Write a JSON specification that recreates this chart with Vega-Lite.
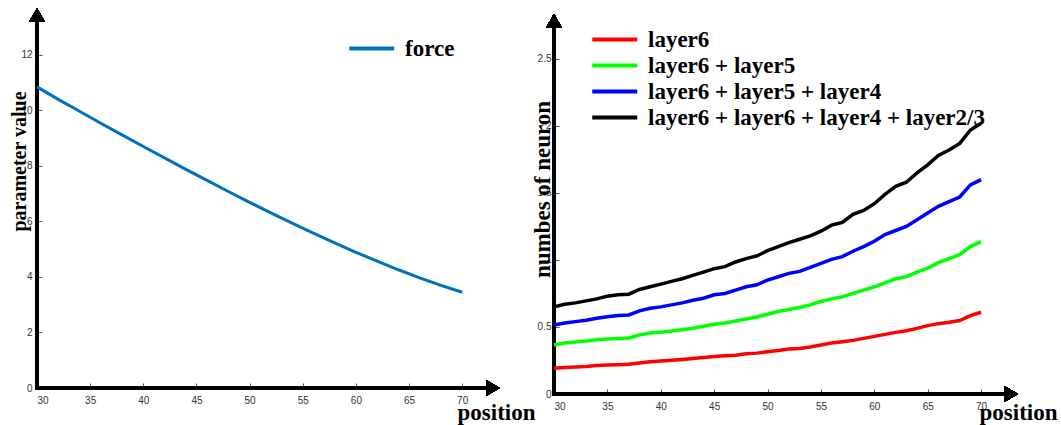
{
  "$schema": "https://vega.github.io/schema/vega-lite/v6.json",
  "padding": {"left": 9, "top": 8, "right": 5, "bottom": 5},
  "bounds": "flush",
  "spacing": 61,
  "resolve": {"scale": {"color": "independent"}},
  "config": {
    "view": {"stroke": null},
    "axis": {
      "grid": false, "domain": false,
      "labelFont": "Liberation Sans", "labelFontSize": 10, "labelColor": "#333333",
      "tickColor": "#555555", "tickSize": -5,
      "titleFont": "Liberation Serif", "titleFontWeight": "bold", "titleFontSize": 23, "titleColor": "#000000"
    },
    "axisX": {"labelPadding": 12},
    "axisY": {"labelPadding": 8},
    "legend": {
      "orient": "none", "title": null, "symbolType": "M-1,0H3", "symbolSize": 506, "symbolStrokeWidth": 4,
      "labelFont": "Liberation Serif", "labelFontWeight": "bold", "labelFontSize": 23, "labelColor": "#000000",
      "labelLimit": 600, "labelOffset": 31, "rowPadding": 0
    }
  },
  "hconcat": [
    {
      "width": 456, "height": 373,
      "data": {"values": [
        {"position": 30, "value": 10.85, "series": "force"},
        {"position": 32, "value": 10.4, "series": "force"},
        {"position": 34, "value": 9.97, "series": "force"},
        {"position": 36, "value": 9.54, "series": "force"},
        {"position": 38, "value": 9.12, "series": "force"},
        {"position": 40, "value": 8.7, "series": "force"},
        {"position": 42, "value": 8.29, "series": "force"},
        {"position": 44, "value": 7.88, "series": "force"},
        {"position": 46, "value": 7.48, "series": "force"},
        {"position": 48, "value": 7.08, "series": "force"},
        {"position": 50, "value": 6.69, "series": "force"},
        {"position": 52, "value": 6.31, "series": "force"},
        {"position": 54, "value": 5.94, "series": "force"},
        {"position": 56, "value": 5.58, "series": "force"},
        {"position": 58, "value": 5.23, "series": "force"},
        {"position": 60, "value": 4.89, "series": "force"},
        {"position": 62, "value": 4.57, "series": "force"},
        {"position": 64, "value": 4.26, "series": "force"},
        {"position": 66, "value": 3.97, "series": "force"},
        {"position": 68, "value": 3.7, "series": "force"},
        {"position": 70, "value": 3.45, "series": "force"}
      ]},
      "encoding": {
        "x": {"type": "quantitative", "scale": {"domain": [30, 72.9], "nice": false, "zero": false},
          "axis": {"values": [30, 35, 40, 45, 50, 55, 60, 65, 70], "title": "position",
            "titleX": 420, "titleY": 31, "titleAlign": "left", "titleBaseline": "alphabetic"}},
        "y": {"type": "quantitative", "scale": {"domain": [0, 13.44], "nice": false},
          "axis": {"values": [0, 2, 4, 6, 8, 10, 12], "labelPadding": 10, "title": "parameter value", "titleFontSize": 20,
            "titleAngle": 270, "titleX": -12, "titleY": 146, "titleAlign": "center", "titleBaseline": "alphabetic"}}
      },
      "layer": [
        {"mark": {"type": "rule", "stroke": "#000000", "strokeWidth": 4, "strokeCap": "square"},
          "encoding": {"x": {"datum": 30}, "x2": {"datum": 72.5}, "y": {"datum": 0}}},
        {"mark": {"type": "rule", "stroke": "#000000", "strokeWidth": 4, "strokeCap": "square"},
          "encoding": {"x": {"datum": 30}, "y": {"datum": 0}, "y2": {"datum": 13.1}}},
        {"mark": {"type": "point", "shape": "triangle-right", "filled": true, "color": "#000000", "size": 250, "opacity": 1},
          "encoding": {"x": {"datum": 72.9}, "y": {"datum": 0}}},
        {"mark": {"type": "point", "shape": "triangle-up", "filled": true, "color": "#000000", "size": 250, "opacity": 1},
          "encoding": {"x": {"datum": 30}, "y": {"datum": 13.44}}},
        {"mark": {"type": "line", "strokeWidth": 3},
          "encoding": {
            "x": {"field": "position", "type": "quantitative"},
            "y": {"field": "value", "type": "quantitative"},
            "color": {"field": "series", "type": "nominal", "scale": {"domain": ["force"], "range": ["#0072BD"]},
              "legend": {"legendX": 310, "legendY": 20}}
          }}
      ]
    },
    {
      "width": 457, "height": 379,
      "data": {"values": [
        {"position": 30, "value": 0.192, "series": "layer6"},
        {"position": 31, "value": 0.198, "series": "layer6"},
        {"position": 32, "value": 0.202, "series": "layer6"},
        {"position": 33, "value": 0.206, "series": "layer6"},
        {"position": 34, "value": 0.212, "series": "layer6"},
        {"position": 35, "value": 0.216, "series": "layer6"},
        {"position": 36, "value": 0.219, "series": "layer6"},
        {"position": 37, "value": 0.222, "series": "layer6"},
        {"position": 38, "value": 0.232, "series": "layer6"},
        {"position": 39, "value": 0.24, "series": "layer6"},
        {"position": 40, "value": 0.246, "series": "layer6"},
        {"position": 41, "value": 0.252, "series": "layer6"},
        {"position": 42, "value": 0.258, "series": "layer6"},
        {"position": 43, "value": 0.265, "series": "layer6"},
        {"position": 44, "value": 0.272, "series": "layer6"},
        {"position": 45, "value": 0.279, "series": "layer6"},
        {"position": 46, "value": 0.285, "series": "layer6"},
        {"position": 47, "value": 0.29, "series": "layer6"},
        {"position": 48, "value": 0.3, "series": "layer6"},
        {"position": 49, "value": 0.305, "series": "layer6"},
        {"position": 50, "value": 0.315, "series": "layer6"},
        {"position": 51, "value": 0.325, "series": "layer6"},
        {"position": 52, "value": 0.335, "series": "layer6"},
        {"position": 53, "value": 0.34, "series": "layer6"},
        {"position": 54, "value": 0.35, "series": "layer6"},
        {"position": 55, "value": 0.365, "series": "layer6"},
        {"position": 56, "value": 0.38, "series": "layer6"},
        {"position": 57, "value": 0.39, "series": "layer6"},
        {"position": 58, "value": 0.4, "series": "layer6"},
        {"position": 59, "value": 0.415, "series": "layer6"},
        {"position": 60, "value": 0.43, "series": "layer6"},
        {"position": 61, "value": 0.445, "series": "layer6"},
        {"position": 62, "value": 0.46, "series": "layer6"},
        {"position": 63, "value": 0.472, "series": "layer6"},
        {"position": 64, "value": 0.49, "series": "layer6"},
        {"position": 65, "value": 0.51, "series": "layer6"},
        {"position": 66, "value": 0.525, "series": "layer6"},
        {"position": 67, "value": 0.535, "series": "layer6"},
        {"position": 68, "value": 0.548, "series": "layer6"},
        {"position": 69, "value": 0.585, "series": "layer6"},
        {"position": 70, "value": 0.61, "series": "layer6"},
        {"position": 30, "value": 0.366, "series": "layer6 + layer5"},
        {"position": 31, "value": 0.38, "series": "layer6 + layer5"},
        {"position": 32, "value": 0.388, "series": "layer6 + layer5"},
        {"position": 33, "value": 0.395, "series": "layer6 + layer5"},
        {"position": 34, "value": 0.405, "series": "layer6 + layer5"},
        {"position": 35, "value": 0.41, "series": "layer6 + layer5"},
        {"position": 36, "value": 0.415, "series": "layer6 + layer5"},
        {"position": 37, "value": 0.418, "series": "layer6 + layer5"},
        {"position": 38, "value": 0.44, "series": "layer6 + layer5"},
        {"position": 39, "value": 0.455, "series": "layer6 + layer5"},
        {"position": 40, "value": 0.46, "series": "layer6 + layer5"},
        {"position": 41, "value": 0.47, "series": "layer6 + layer5"},
        {"position": 42, "value": 0.48, "series": "layer6 + layer5"},
        {"position": 43, "value": 0.49, "series": "layer6 + layer5"},
        {"position": 44, "value": 0.505, "series": "layer6 + layer5"},
        {"position": 45, "value": 0.52, "series": "layer6 + layer5"},
        {"position": 46, "value": 0.53, "series": "layer6 + layer5"},
        {"position": 47, "value": 0.545, "series": "layer6 + layer5"},
        {"position": 48, "value": 0.56, "series": "layer6 + layer5"},
        {"position": 49, "value": 0.575, "series": "layer6 + layer5"},
        {"position": 50, "value": 0.595, "series": "layer6 + layer5"},
        {"position": 51, "value": 0.615, "series": "layer6 + layer5"},
        {"position": 52, "value": 0.63, "series": "layer6 + layer5"},
        {"position": 53, "value": 0.645, "series": "layer6 + layer5"},
        {"position": 54, "value": 0.665, "series": "layer6 + layer5"},
        {"position": 55, "value": 0.69, "series": "layer6 + layer5"},
        {"position": 56, "value": 0.71, "series": "layer6 + layer5"},
        {"position": 57, "value": 0.725, "series": "layer6 + layer5"},
        {"position": 58, "value": 0.75, "series": "layer6 + layer5"},
        {"position": 59, "value": 0.775, "series": "layer6 + layer5"},
        {"position": 60, "value": 0.8, "series": "layer6 + layer5"},
        {"position": 61, "value": 0.83, "series": "layer6 + layer5"},
        {"position": 62, "value": 0.86, "series": "layer6 + layer5"},
        {"position": 63, "value": 0.876, "series": "layer6 + layer5"},
        {"position": 64, "value": 0.91, "series": "layer6 + layer5"},
        {"position": 65, "value": 0.94, "series": "layer6 + layer5"},
        {"position": 66, "value": 0.98, "series": "layer6 + layer5"},
        {"position": 67, "value": 1.01, "series": "layer6 + layer5"},
        {"position": 68, "value": 1.04, "series": "layer6 + layer5"},
        {"position": 69, "value": 1.1, "series": "layer6 + layer5"},
        {"position": 70, "value": 1.137, "series": "layer6 + layer5"},
        {"position": 30, "value": 0.515, "series": "layer6 + layer5 + layer4"},
        {"position": 31, "value": 0.53, "series": "layer6 + layer5 + layer4"},
        {"position": 32, "value": 0.54, "series": "layer6 + layer5 + layer4"},
        {"position": 33, "value": 0.55, "series": "layer6 + layer5 + layer4"},
        {"position": 34, "value": 0.565, "series": "layer6 + layer5 + layer4"},
        {"position": 35, "value": 0.577, "series": "layer6 + layer5 + layer4"},
        {"position": 36, "value": 0.585, "series": "layer6 + layer5 + layer4"},
        {"position": 37, "value": 0.59, "series": "layer6 + layer5 + layer4"},
        {"position": 38, "value": 0.62, "series": "layer6 + layer5 + layer4"},
        {"position": 39, "value": 0.64, "series": "layer6 + layer5 + layer4"},
        {"position": 40, "value": 0.65, "series": "layer6 + layer5 + layer4"},
        {"position": 41, "value": 0.665, "series": "layer6 + layer5 + layer4"},
        {"position": 42, "value": 0.68, "series": "layer6 + layer5 + layer4"},
        {"position": 43, "value": 0.7, "series": "layer6 + layer5 + layer4"},
        {"position": 44, "value": 0.715, "series": "layer6 + layer5 + layer4"},
        {"position": 45, "value": 0.74, "series": "layer6 + layer5 + layer4"},
        {"position": 46, "value": 0.75, "series": "layer6 + layer5 + layer4"},
        {"position": 47, "value": 0.775, "series": "layer6 + layer5 + layer4"},
        {"position": 48, "value": 0.8, "series": "layer6 + layer5 + layer4"},
        {"position": 49, "value": 0.815, "series": "layer6 + layer5 + layer4"},
        {"position": 50, "value": 0.85, "series": "layer6 + layer5 + layer4"},
        {"position": 51, "value": 0.875, "series": "layer6 + layer5 + layer4"},
        {"position": 52, "value": 0.9, "series": "layer6 + layer5 + layer4"},
        {"position": 53, "value": 0.915, "series": "layer6 + layer5 + layer4"},
        {"position": 54, "value": 0.945, "series": "layer6 + layer5 + layer4"},
        {"position": 55, "value": 0.975, "series": "layer6 + layer5 + layer4"},
        {"position": 56, "value": 1.005, "series": "layer6 + layer5 + layer4"},
        {"position": 57, "value": 1.025, "series": "layer6 + layer5 + layer4"},
        {"position": 58, "value": 1.065, "series": "layer6 + layer5 + layer4"},
        {"position": 59, "value": 1.1, "series": "layer6 + layer5 + layer4"},
        {"position": 60, "value": 1.14, "series": "layer6 + layer5 + layer4"},
        {"position": 61, "value": 1.19, "series": "layer6 + layer5 + layer4"},
        {"position": 62, "value": 1.22, "series": "layer6 + layer5 + layer4"},
        {"position": 63, "value": 1.25, "series": "layer6 + layer5 + layer4"},
        {"position": 64, "value": 1.3, "series": "layer6 + layer5 + layer4"},
        {"position": 65, "value": 1.35, "series": "layer6 + layer5 + layer4"},
        {"position": 66, "value": 1.4, "series": "layer6 + layer5 + layer4"},
        {"position": 67, "value": 1.435, "series": "layer6 + layer5 + layer4"},
        {"position": 68, "value": 1.47, "series": "layer6 + layer5 + layer4"},
        {"position": 69, "value": 1.56, "series": "layer6 + layer5 + layer4"},
        {"position": 70, "value": 1.6, "series": "layer6 + layer5 + layer4"},
        {"position": 30, "value": 0.65, "series": "layer6 + layer6 + layer4 + layer2/3"},
        {"position": 31, "value": 0.67, "series": "layer6 + layer6 + layer4 + layer2/3"},
        {"position": 32, "value": 0.68, "series": "layer6 + layer6 + layer4 + layer2/3"},
        {"position": 33, "value": 0.695, "series": "layer6 + layer6 + layer4 + layer2/3"},
        {"position": 34, "value": 0.71, "series": "layer6 + layer6 + layer4 + layer2/3"},
        {"position": 35, "value": 0.73, "series": "layer6 + layer6 + layer4 + layer2/3"},
        {"position": 36, "value": 0.74, "series": "layer6 + layer6 + layer4 + layer2/3"},
        {"position": 37, "value": 0.745, "series": "layer6 + layer6 + layer4 + layer2/3"},
        {"position": 38, "value": 0.78, "series": "layer6 + layer6 + layer4 + layer2/3"},
        {"position": 39, "value": 0.8, "series": "layer6 + layer6 + layer4 + layer2/3"},
        {"position": 40, "value": 0.82, "series": "layer6 + layer6 + layer4 + layer2/3"},
        {"position": 41, "value": 0.84, "series": "layer6 + layer6 + layer4 + layer2/3"},
        {"position": 42, "value": 0.86, "series": "layer6 + layer6 + layer4 + layer2/3"},
        {"position": 43, "value": 0.885, "series": "layer6 + layer6 + layer4 + layer2/3"},
        {"position": 44, "value": 0.91, "series": "layer6 + layer6 + layer4 + layer2/3"},
        {"position": 45, "value": 0.935, "series": "layer6 + layer6 + layer4 + layer2/3"},
        {"position": 46, "value": 0.95, "series": "layer6 + layer6 + layer4 + layer2/3"},
        {"position": 47, "value": 0.985, "series": "layer6 + layer6 + layer4 + layer2/3"},
        {"position": 48, "value": 1.01, "series": "layer6 + layer6 + layer4 + layer2/3"},
        {"position": 49, "value": 1.03, "series": "layer6 + layer6 + layer4 + layer2/3"},
        {"position": 50, "value": 1.07, "series": "layer6 + layer6 + layer4 + layer2/3"},
        {"position": 51, "value": 1.1, "series": "layer6 + layer6 + layer4 + layer2/3"},
        {"position": 52, "value": 1.13, "series": "layer6 + layer6 + layer4 + layer2/3"},
        {"position": 53, "value": 1.155, "series": "layer6 + layer6 + layer4 + layer2/3"},
        {"position": 54, "value": 1.18, "series": "layer6 + layer6 + layer4 + layer2/3"},
        {"position": 55, "value": 1.215, "series": "layer6 + layer6 + layer4 + layer2/3"},
        {"position": 56, "value": 1.26, "series": "layer6 + layer6 + layer4 + layer2/3"},
        {"position": 57, "value": 1.28, "series": "layer6 + layer6 + layer4 + layer2/3"},
        {"position": 58, "value": 1.34, "series": "layer6 + layer6 + layer4 + layer2/3"},
        {"position": 59, "value": 1.37, "series": "layer6 + layer6 + layer4 + layer2/3"},
        {"position": 60, "value": 1.42, "series": "layer6 + layer6 + layer4 + layer2/3"},
        {"position": 61, "value": 1.49, "series": "layer6 + layer6 + layer4 + layer2/3"},
        {"position": 62, "value": 1.55, "series": "layer6 + layer6 + layer4 + layer2/3"},
        {"position": 63, "value": 1.58, "series": "layer6 + layer6 + layer4 + layer2/3"},
        {"position": 64, "value": 1.65, "series": "layer6 + layer6 + layer4 + layer2/3"},
        {"position": 65, "value": 1.71, "series": "layer6 + layer6 + layer4 + layer2/3"},
        {"position": 66, "value": 1.78, "series": "layer6 + layer6 + layer4 + layer2/3"},
        {"position": 67, "value": 1.82, "series": "layer6 + layer6 + layer4 + layer2/3"},
        {"position": 68, "value": 1.87, "series": "layer6 + layer6 + layer4 + layer2/3"},
        {"position": 69, "value": 1.97, "series": "layer6 + layer6 + layer4 + layer2/3"},
        {"position": 70, "value": 2.02, "series": "layer6 + layer6 + layer4 + layer2/3"}
      ]},
      "encoding": {
        "x": {"type": "quantitative", "scale": {"domain": [30, 72.8], "nice": false, "zero": false},
          "axis": {"values": [30, 35, 40, 45, 50, 55, 60, 65, 70], "title": "position",
            "titleX": 425, "titleY": 25, "titleAlign": "left", "titleBaseline": "alphabetic"}},
        "y": {"type": "quantitative", "scale": {"domain": [0, 2.828], "nice": false},
          "axis": {"values": [0, 0.5, 1, 1.5, 2, 2.5], "format": ".1~f", "title": "numbes of neuron",
            "titleAngle": 270, "titleX": -5, "titleY": 174, "titleAlign": "center", "titleBaseline": "alphabetic"}}
      },
      "layer": [
        {"mark": {"type": "rule", "stroke": "#000000", "strokeWidth": 4, "strokeCap": "square"},
          "encoding": {"x": {"datum": 30}, "x2": {"datum": 72.4}, "y": {"datum": 0}}},
        {"mark": {"type": "rule", "stroke": "#000000", "strokeWidth": 4, "strokeCap": "square"},
          "encoding": {"x": {"datum": 30}, "y": {"datum": 0}, "y2": {"datum": 2.76}}},
        {"mark": {"type": "point", "shape": "triangle-right", "filled": true, "color": "#000000", "size": 250, "opacity": 1},
          "encoding": {"x": {"datum": 72.8}, "y": {"datum": 0}}},
        {"mark": {"type": "point", "shape": "triangle-up", "filled": true, "color": "#000000", "size": 250, "opacity": 1},
          "encoding": {"x": {"datum": 30}, "y": {"datum": 2.784}}},
        {"mark": {"type": "line", "strokeWidth": 3.5},
          "encoding": {
            "x": {"field": "position", "type": "quantitative"},
            "y": {"field": "value", "type": "quantitative"},
            "color": {"field": "series", "type": "nominal",
              "scale": {"domain": ["layer6", "layer6 + layer5", "layer6 + layer5 + layer4", "layer6 + layer6 + layer4 + layer2/3"],
                "range": ["#ff0000", "#00ff00", "#0000ff", "#000000"]},
              "legend": {"legendX": 36, "legendY": 11}}
          }}
      ]
    }
  ]
}
